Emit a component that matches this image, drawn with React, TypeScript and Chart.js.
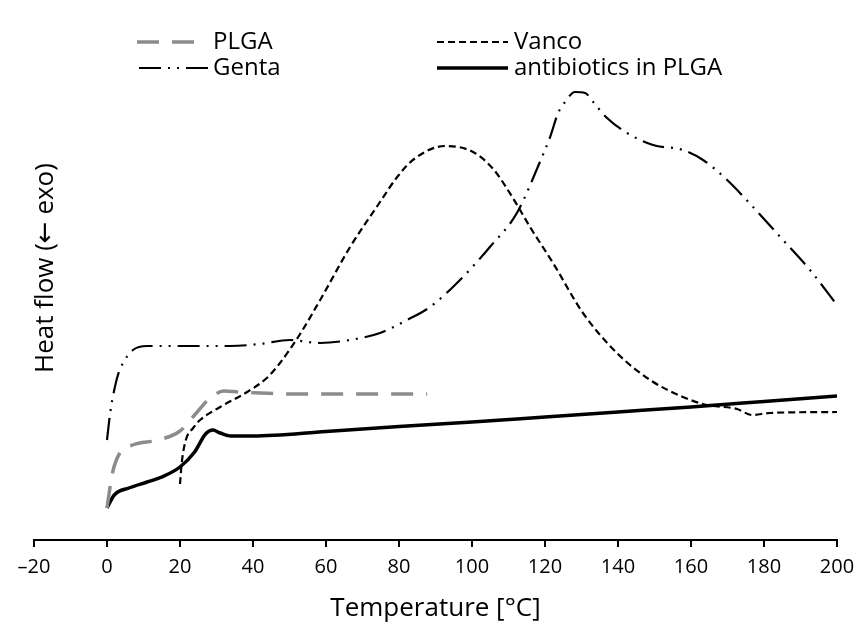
import React, { useEffect, useRef } from "react";
import { Chart, registerables } from "chart.js";
Chart.register(...registerables);

const FONT = "'Open Sans', 'Noto Sans', sans-serif";
const YFONT = "'Open Sans', 'DejaVu Sans', sans-serif";

const xTicks = [-20, 0, 20, 40, 60, 80, 100, 120, 140, 160, 180, 200];

const seriesNames = ["PLGA", "Vanco", "Genta", "antibiotics in PLGA"];

const plgaT = [0, 1.5, 3.5, 7, 14, 20, 24, 28, 32, 36, 42, 50, 60, 70, 80, 87.7];
const plgaV = [6.4, 13.4, 17.4, 19, 20, 21.8, 25, 28.2, 29.8, 29.6, 29.4, 29.2, 29.2, 29.2, 29.2, 29.2];

const vancoT = [20, 20.5, 21.6, 23.6, 25.5, 31, 38.4, 43.8, 47.4, 52.9, 58.4, 66.6, 74.8, 79.5, 83.8, 92.6, 100.3, 105.8, 111.2, 115.9, 122.2, 130.4, 139.7, 148.8, 157.8, 164.4, 172.6, 176.7, 181.6, 200];
const vancoV = [11.2, 15.6, 20, 22.4, 24, 26.6, 29.6, 32.4, 35.4, 41.2, 48, 58.6, 67.6, 72.6, 76, 78.8, 77.6, 74.2, 68.4, 62.6, 55.4, 45.4, 37.4, 32, 28.6, 27, 26.2, 25, 25.4, 25.6];

const gentaT = [0, 0.8, 1.6, 3, 4.4, 7.1, 11, 20, 33.7, 41.9, 50.1, 58.4, 66.6, 74.8, 82.2, 88.5, 97.5, 104.9, 112.3, 118.6, 121.4, 123.6, 125.5, 128.2, 131, 133.2, 137, 142.5, 149.6, 157.8, 163.3, 169.9, 177, 185.2, 192.6, 200];
const gentaV = [20, 25, 28.6, 33, 35.4, 38, 38.8, 38.8, 38.8, 39.2, 40, 39.4, 40, 41.4, 44, 46.6, 52.6, 58.6, 65.4, 75.6, 80.6, 85.4, 87.6, 89.6, 89.4, 87.6, 84.4, 81.4, 79, 78, 76, 72, 66.6, 60, 54, 47];

const abT = [0, 2, 6, 11, 15, 20, 24, 27, 29, 31, 34, 40, 60, 80, 100, 120, 140, 160, 180, 200];
const abV = [6.4, 9, 10.4, 11.6, 12.6, 14.6, 17.6, 21.2, 22, 21.4, 20.8, 20.8, 21.7, 22.7, 23.6, 24.6, 25.6, 26.6, 27.7, 28.8];

const pts = (t: number[], v: number[]) => t.map((x, i) => ({ x, y: v[i] }));

const STYLE = [
  { color: "#8c8c8c", width: 3.5, dash: [22, 13] },
  { color: "#000000", width: 2.2, dash: [7, 4] },
  { color: "#000000", width: 2.2, dash: [22, 7, 2, 7, 2, 7] },
  { color: "#000000", width: 3.5, dash: [] as number[] },
];

const overlay = {
  id: "overlay",
  afterDraw(chart: any) {
    const ctx = chart.ctx as CanvasRenderingContext2D;
    ctx.save();
    const items = [
      { i: 0, x1: 137, x2: 200, y: 42, tx: 213 },
      { i: 1, x1: 437, x2: 508, y: 42, tx: 514 },
      { i: 2, x1: 139, x2: 208, y: 68, tx: 213 },
      { i: 3, x1: 437, x2: 508, y: 68, tx: 514 },
    ];
    for (const it of items) {
      const s = STYLE[it.i];
      ctx.beginPath();
      ctx.setLineDash(s.dash);
      ctx.lineCap = "butt";
      ctx.strokeStyle = s.color;
      ctx.lineWidth = s.width;
      ctx.moveTo(it.x1, it.y);
      ctx.lineTo(it.x2, it.y);
      ctx.stroke();
      ctx.setLineDash([]);
      ctx.fillStyle = "#000";
      ctx.font = `24px ${FONT}`;
      ctx.textAlign = "left";
      ctx.textBaseline = "middle";
      ctx.fillText(seriesNames[it.i], it.tx, it.y);
    }
    ctx.translate(46, 268);
    ctx.rotate(-Math.PI / 2);
    ctx.textAlign = "center";
    ctx.textBaseline = "middle";
    ctx.font = `26px ${YFONT}`;
    ctx.fillText("Heat flow (\u2190 exo)", 0, 0);
    ctx.restore();
  },
};

export default function App() {
  const ref = useRef<HTMLCanvasElement>(null);
  useEffect(() => {
    document.body.style.margin = "0";
    const data = [pts(plgaT, plgaV), pts(vancoT, vancoV), pts(gentaT, gentaV), pts(abT, abV)];
    const chart = new Chart(ref.current!, {
      type: "line",
      data: {
        datasets: data.map((d, i) => ({
          label: seriesNames[i],
          data: d,
          borderColor: STYLE[i].color,
          borderWidth: STYLE[i].width,
          borderDash: STYLE[i].dash,
          borderCapStyle: "butt",
          pointRadius: 0,
          fill: false,
          cubicInterpolationMode: "monotone",
        })),
      },
      options: {
        animation: false,
        responsive: false,
        layout: { padding: { left: 34, right: 19, top: 40, bottom: 0 } },
        plugins: { legend: { display: false }, tooltip: { enabled: false } },
        scales: {
          x: {
            type: "linear",
            min: -20,
            max: 200,
            afterBuildTicks: (s: any) => {
              s.ticks = xTicks.map((v) => ({ value: v }));
            },
            afterFit: (s: any) => {
              s.height = 86;
              s.paddingLeft = 0;
              s.paddingRight = 0;
            },
            grid: { drawOnChartArea: false, drawTicks: true, tickLength: 7, color: "#000", lineWidth: 2 },
            border: { display: true, color: "#000", width: 2 },
            ticks: {
              color: "#000",
              font: { family: FONT, size: 20 },
              padding: 8,
              maxRotation: 0,
              autoSkip: false,
              callback: (v: any) => String(v).replace("-", "\u2013"),
            },
            title: {
              display: true,
              text: "Temperature [°C]",
              color: "#000",
              font: { family: FONT, size: 26 },
              padding: { top: 0, bottom: 2 },
            },
          },
          y: { type: "linear", min: 0, max: 100, display: false },
        },
      },
      plugins: [overlay],
    } as any);
    return () => chart.destroy();
  }, []);
  return (
    <div style={{ width: 856, height: 626 }}>
      <canvas ref={ref} width={856} height={626} style={{ display: "block", width: 856, height: 626 }} />
    </div>
  );
}
